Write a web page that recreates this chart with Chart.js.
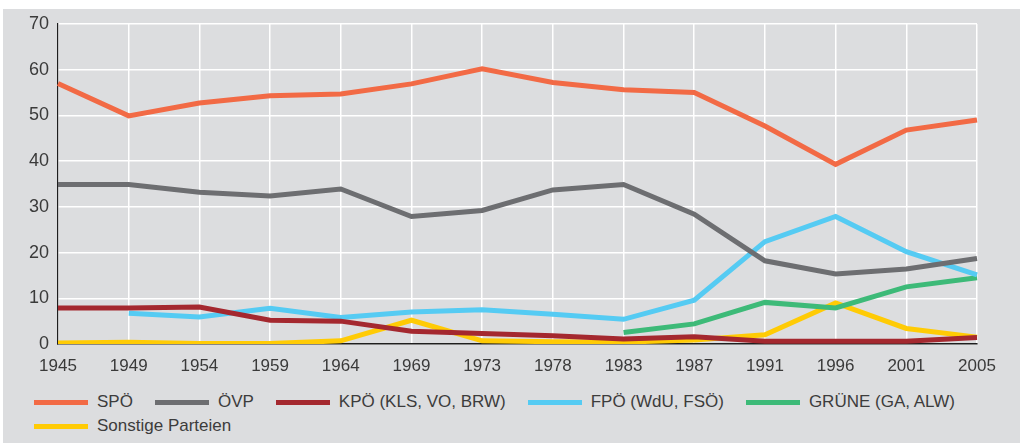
<!DOCTYPE html>
<html lang="de">
<head>
<meta charset="utf-8">
<title>Stimmenanteile 1945-2005</title>
<script src="https://cdn.jsdelivr.net/npm/chart.js@4/dist/chart.umd.min.js"></script>
<style>
    html, body {
        margin: 0;
        padding: 0;
        background: #ffffff;
    }
    body {
        width: 1020px;
        height: 443px;
        position: relative;
        overflow: hidden;
    }
    .panel {
        position: absolute;
        left: 3px;
        top: 9px;
        right: 0;
        bottom: 0;
        background: #dcdddf;
    }
    .chart-box {
        position: absolute;
        left: 0;
        top: 0;
        width: 1020px;
        height: 390px;
    }
    #legend {
        position: absolute;
        left: 34px;
        top: 390px;
        width: 980px;
        display: flex;
        flex-wrap: wrap;
        font-family: 'Liberation Sans', Arial, sans-serif;
        font-size: 17px;
        color: #3c3c3c;
    }
    #legend .item {
        display: flex;
        align-items: center;
        height: 24px;
        margin-right: 22px;
        white-space: nowrap;
    }
    #legend .swatch {
        width: 54px;
        height: 5px;
        margin-right: 9px;
    }
</style>
</head>
<body>
<div class="panel"></div>
<div class="chart-box"><canvas id="voteChart"></canvas></div>
<div id="legend"></div>

<script>
// ==========================================
// DATA
// ==========================================

const years = ['1945', '1949', '1954', '1959', '1964', '1969', '1973',
               '1978', '1983', '1987', '1991', '1996', '2001', '2005'];

const spoe     = [57.0, 49.9, 52.7, 54.3, 54.7, 56.9, 60.2, 57.2, 55.6, 55.0, 47.7, 39.3, 46.8, 49.0];
const oevp     = [34.9, 34.9, 33.2, 32.4, 33.9, 27.9, 29.2, 33.7, 34.9, 28.4, 18.2, 15.3, 16.4, 18.7];
const kpoe     = [7.9, 7.9, 8.1, 5.2, 5.0, 2.8, 2.3, 1.8, 1.1, 1.6, 0.6, 0.6, 0.6, 1.4];
const fpoe     = [null, 6.7, 5.9, 7.8, 5.8, 7.0, 7.5, 6.5, 5.4, 9.6, 22.4, 27.9, 20.2, 15.1];
const gruene   = [null, null, null, null, null, null, null, null, 2.5, 4.4, 9.1, 7.9, 12.5, 14.5];
const sonstige = [0.2, 0.4, 0.1, 0.1, 0.7, 5.2, 0.7, 0.5, 0.4, 0.9, 2.0, 9.0, 3.4, 1.5];

const yTicks = [0, 10, 20, 30, 40, 50, 60, 70];

// ==========================================
// STYLE
// ==========================================

const FONT = "'Liberation Sans', Arial, sans-serif";
const TEXT_COLOR = '#3a3a3a';

function series(label, data, color) {
    return {
        label: label,
        data: data,
        borderColor: color,
        backgroundColor: color,
        borderWidth: 5,
        pointRadius: 0,
        pointHoverRadius: 0,
        tension: 0,
        fill: false,
        spanGaps: false
    };
}

// ==========================================
// CHART
// ==========================================

function initVoteChart() {
    const ctx = document.getElementById('voteChart');

    const chart = new Chart(ctx, {
        type: 'line',
        data: {
            labels: years,
            datasets: [
                series('SPÖ', spoe, '#f26a45'),
                series('ÖVP', oevp, '#6d6e71'),
                series('KPÖ (KLS, VO, BRW)', kpoe, '#a4282f'),
                series('FPÖ (WdU, FSÖ)', fpoe, '#55cbf3'),
                series('GRÜNE (GA, ALW)', gruene, '#3dba78'),
                series('Sonstige Parteien', sonstige, '#ffcb05')
            ]
        },
        options: {
            responsive: true,
            maintainAspectRatio: false,
            animation: false,
            layout: {
                padding: { left: 0, top: 24, right: 43, bottom: 0 }
            },
            plugins: {
                legend: { display: false },
                tooltip: { enabled: false }
            },
            scales: {
                x: {
                    offset: false,
                    grid: {
                        color: '#ffffff',
                        lineWidth: 1.5,
                        drawTicks: false
                    },
                    border: {
                        color: '#1e1e1e',
                        width: 1.5
                    },
                    ticks: {
                        color: TEXT_COLOR,
                        font: { family: FONT, size: 17 },
                        padding: 12,
                        maxRotation: 0,
                        autoSkip: false
                    },
                    afterFit: (scale) => { scale.height = 46; }
                },
                y: {
                    min: 0,
                    max: 70,
                    afterBuildTicks: (scale) => {
                        scale.ticks = yTicks.map(v => ({ value: v }));
                    },
                    grid: {
                        color: '#ffffff',
                        lineWidth: 1.5,
                        drawTicks: false
                    },
                    border: {
                        color: '#1e1e1e',
                        width: 1.2
                    },
                    ticks: {
                        color: TEXT_COLOR,
                        font: { family: FONT, size: 18 },
                        padding: 9
                    },
                    afterFit: (scale) => { scale.width = 58; }
                }
            }
        }
    });

    return chart;
}

// ==========================================
// LEGEND (html, built from the datasets)
// ==========================================

function buildLegend(chart) {
    const box = document.getElementById('legend');
    chart.data.datasets.forEach(ds => {
        const item = document.createElement('div');
        item.className = 'item';
        const swatch = document.createElement('span');
        swatch.className = 'swatch';
        swatch.style.background = ds.borderColor;
        const text = document.createElement('span');
        text.textContent = ds.label;
        item.appendChild(swatch);
        item.appendChild(text);
        box.appendChild(item);
    });
}

document.addEventListener('DOMContentLoaded', function() {
    const chart = initVoteChart();
    buildLegend(chart);
});
</script>
</body>
</html>
